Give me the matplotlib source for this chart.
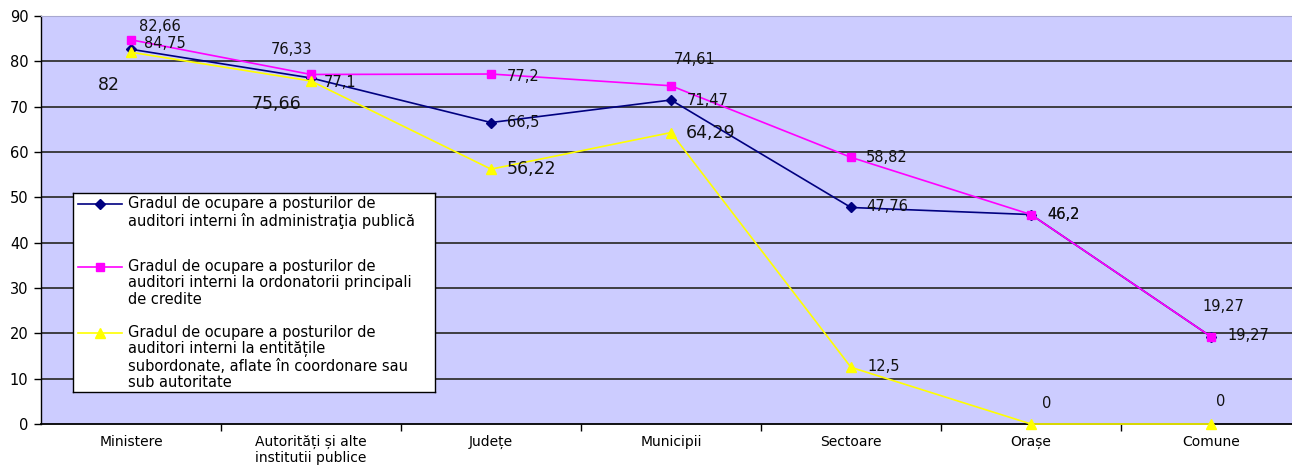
import numpy as np
import matplotlib
matplotlib.use("Agg")
import matplotlib.pyplot as plt
from matplotlib.lines import Line2D

plt.rcParams['font.family'] = ['DejaVu Sans']

# categorii si serii
categorii = ['Ministere', 'Autorități și alte\ninstitutii publice', 'Județe', 'Municipii',
             'Sectoare', 'Orașe', 'Comune']
administratie = [82.66, 76.33, 66.5, 71.47, 47.76, 46.2, 19.27]
ordonatori = [84.75, 77.1, 77.2, 74.61, 58.82, 46.2, 19.27]
subordonate = [82, 75.66, 56.22, 64.29, 12.5, 0, 0]

etichete = [
    'Gradul de ocupare a posturilor de\nauditori interni în administraţia publică',
    'Gradul de ocupare a posturilor de\nauditori interni la ordonatorii principali\nde credite',
    'Gradul de ocupare a posturilor de\nauditori interni la entitățile\nsubordonate, aflate în coordonare sau\nsub autoritate',
]

# deplasari etichete de valoare (pixeli)
off_adm = [(8, 23), (-40, 28), (16, 0), (16, 0), (15, 1), (16, 0), (16, 1)]
off_ord = [(13, -4), (13, -8), (16, -2), (3, 26), (15, 0), (16, 0), (-9, 30)]
off_sub = [(-33, -33), (-59, -23), (16, 0), (15, 0), (16, 1), (11, 21), (5, 22)]
mare_sub = [True, True, True, True, False, False, False]

W, H = 1292, 466
fig = plt.figure(figsize=(W / 100, H / 100), dpi=100)
ax = fig.add_axes([41 / W, (H - 424) / H, 1260 / W, 408 / H])
ax.set_facecolor('#CCCCFF')

x = np.arange(len(categorii))

ax.plot(x, administratie, color='#000080', lw=1.2, marker='D', ms=5, zorder=3)
ax.plot(x, ordonatori, color='#FF00FF', lw=1.2, marker='s', ms=6, zorder=3)
ax.plot(x, subordonate, color='#FFFF00', lw=1.2, marker='^', ms=7, zorder=3, clip_on=False)


def fmt(v):
    return ('%g' % v).replace('.', ',')


def eticheta(vals, offs, sizes):
    for i, v in enumerate(vals):
        ax.annotate(fmt(v), (x[i], v), xytext=offs[i], textcoords='offset pixels',
                    ha='left', va='center', fontsize=sizes[i], color='#111111', zorder=4)


eticheta(administratie, off_adm, [10.5] * 7)
eticheta(ordonatori, off_ord, [10.5] * 7)
eticheta(subordonate, off_sub, [12.5 if m else 10.5 for m in mare_sub])

ax.set_xlim(-0.5, 6.5)
ax.set_ylim(0, 90)
ax.set_yticks(np.arange(0, 100, 10))
for yy in range(10, 90, 10):
    ax.axhline(yy, color='#333333', lw=1.3, zorder=1)

ax.set_xticks(x)
ax.set_xticklabels(categorii, fontsize=10, linespacing=1.2)
ax.set_xticks(np.arange(0.5, 6, 1), minor=True)
ax.tick_params(axis='x', which='major', length=0, pad=8)
ax.tick_params(axis='x', which='minor', length=5, direction='out', width=1)
ax.tick_params(axis='y', length=5, direction='out', width=1, labelsize=10.5, pad=4)

ax.spines['top'].set_color('#A8A8D0')
ax.spines['right'].set_visible(False)
ax.spines['left'].set_linewidth(1)
ax.spines['bottom'].set_linewidth(1.3)

# legenda desenata intr-o axa separata
lg = fig.add_axes([73 / W, (H - 392) / H, 362 / W, 199 / H])
lg.set_xlim(0, 362)
lg.set_ylim(199, 0)
lg.set_xticks([])
lg.set_yticks([])
lg.set_facecolor('white')
for s in lg.spines.values():
    s.set_color('black')
    s.set_linewidth(1)

stiluri = [('#000080', 'D', 5), ('#FF00FF', 's', 6), ('#FFFF00', '^', 7)]
y_leg = [11, 74, 140]
for (c, m, ms), yy, txt in zip(stiluri, y_leg, etichete):
    lg.add_line(Line2D([5, 49], [yy, yy], color=c, lw=1.2))
    lg.plot([27], [yy], marker=m, color=c, ms=ms)
    lg.text(55, yy - 8, txt, fontsize=10.5, va='top', ha='left', linespacing=1.12)

fig.savefig('out.png', dpi=100)
